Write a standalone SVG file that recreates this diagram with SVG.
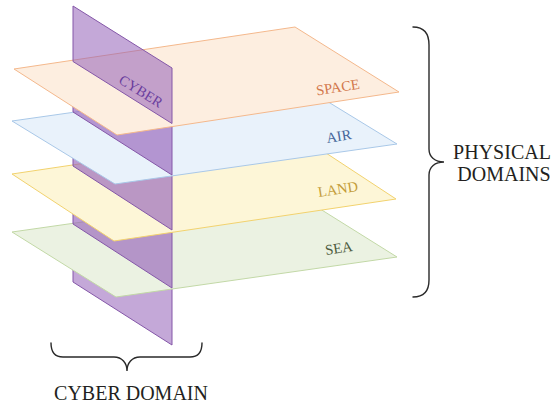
<svg xmlns="http://www.w3.org/2000/svg" width="557" height="406" viewBox="0 0 557 406">
  <style>
    .cy { fill: #9461b8; stroke: #8457a8; stroke-width: 1; stroke-linejoin: round; }
    .cy-end { fill-opacity: 0.55; }
    .cy-mid { fill-opacity: 0.64; }
    .space { fill: #fdeee0; stroke: #f4b88c; stroke-width: 1; }
    .air { fill: #e9f2fb; stroke: #a9c8e8; stroke-width: 1; }
    .land { fill: #fdf6d7; stroke: #f2d26e; stroke-width: 1; }
    .sea { fill: #ebf2e2; stroke: #c2d8a6; stroke-width: 1; }
    .lbl { font-family: "Liberation Serif", "DejaVu Serif", serif; font-size: 14.5px; text-anchor: middle; }
    .cap { font-family: "Liberation Serif", "DejaVu Serif", serif; font-size: 20px; fill: #231f20; text-anchor: middle; }
    .brace { fill: none; stroke: #2a2a2a; stroke-width: 1.4; stroke-linecap: round; }
  </style>

  <!-- cyber plane, lowest segment (below the sea layer) -->
  <g id="cyber-seg-bottom">
    <polygon class="cy cy-end" points="73,224 172,288 172,345 73,282"/>
  </g>

  <g id="sea">
    <polygon class="sea" points="12,232 293,192 397,257 116,297"/>
  </g>

  <g id="cyber-seg-sea-land">
    <polygon class="cy cy-mid" points="73,166 172,230 172,288 73,224"/>
  </g>

  <g id="land">
    <polygon class="land" points="12,174 294,132 396,199 114,241"/>
  </g>

  <g id="cyber-seg-land-air">
    <polygon class="cy cy-mid" points="73,112 172,175 172,230 73,166"/>
  </g>

  <g id="air">
    <polygon class="air" points="12,121 294,81 397,144 115,184"/>
  </g>

  <g id="cyber-seg-air-space">
    <polygon class="cy cy-mid" points="73,61.5 172,123.5 172,175 73,112"/>
  </g>

  <g id="space">
    <polygon class="space" points="14,69 295,27 399,92 117,135"/>
  </g>

  <!-- cyber plane, top segment (above the space layer) -->
  <g id="cyber-seg-top">
    <polygon class="cy cy-end" points="73,6 172,68 172,123.5 73,61.5"/>
    <text class="lbl" x="141" y="96" font-size="16" fill="#6a3d9e" transform="rotate(32 141 91)">CYBER</text>
  </g>

  <!-- layer labels -->
  <g id="labels">
    <text class="lbl" x="338" y="92" fill="#d2774c" transform="rotate(-9 338 88)">SPACE</text>
    <text class="lbl" x="339" y="141" fill="#46669a" transform="rotate(-9 339 137)">AIR</text>
    <text class="lbl" x="338" y="194" fill="#c49d3a" transform="rotate(-9 338 190)">LAND</text>
    <text class="lbl" x="339" y="253" fill="#4b5a3c" transform="rotate(-9 339 249)">SEA</text>
  </g>

  <!-- grouping braces -->
  <g id="connectors">
    <path class="brace" d="M413,27 C424,27 429,33 429,45 L429,149 C429,157 435,162 444,162 C435,162 429,167 429,175 L429,280 C429,291 424,297 413,297"/>
    <path class="brace" d="M51,343 C51,352 55,357 63,357 L114,357 C122,357 127,363 127,371 C127,363 132,357 140,357 L190,357 C198,357 202,352 202,343"/>
  </g>

  <g id="physical-domains">
    <text class="cap" x="502" y="159">PHYSICAL</text>
    <text class="cap" x="504" y="181">DOMAINS</text>
  </g>

  <g id="cyber-domain">
    <text class="cap" x="131" y="400" font-size="20.5">CYBER DOMAIN</text>
  </g>
</svg>
